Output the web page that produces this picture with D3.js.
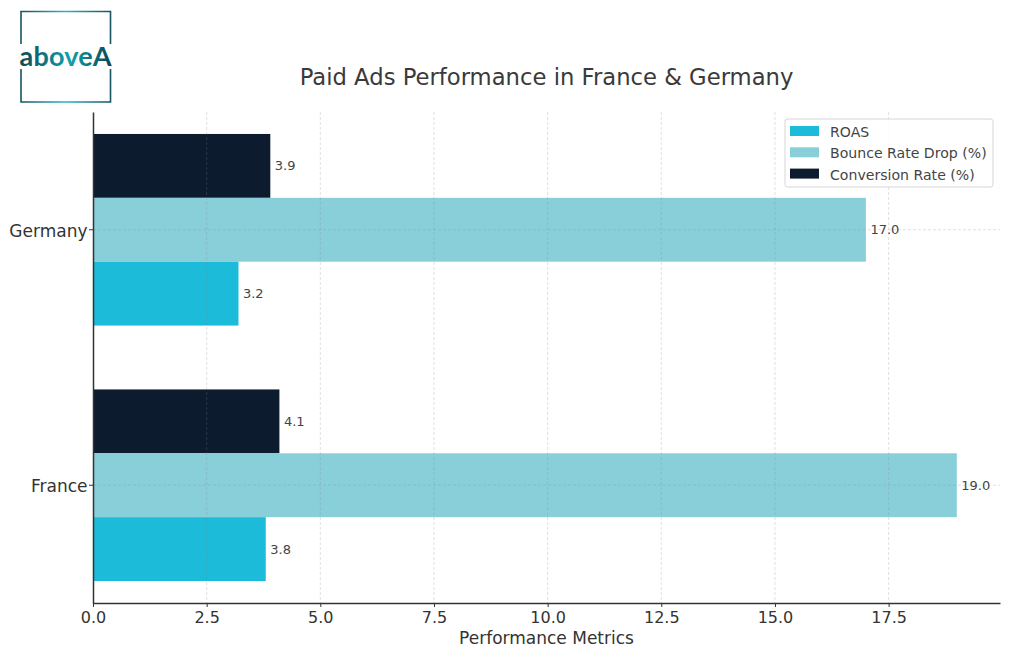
<!DOCTYPE html>
<html>
<head>
<meta charset="utf-8">
<script src="https://cdnjs.cloudflare.com/ajax/libs/d3/7.8.5/d3.min.js"></script>
<style>
  html, body { margin: 0; padding: 0; background: #fff; }
  svg { display: block; font-family: "DejaVu Sans", sans-serif; }
  .tick text { fill: #333; font-family: "DejaVu Sans", sans-serif; }
  .grid line { stroke: #888; stroke-opacity: 0.26; stroke-dasharray: 3 2; stroke-width: 1; }
</style>
</head>
<body>
<div id="chart"></div>
<script>
// Data
var countries = ["Germany", "France"];
var seriesNames = ["Conversion Rate (%)", "Bounce Rate Drop (%)", "ROAS"];
var legendNames = ["ROAS", "Bounce Rate Drop (%)", "Conversion Rate (%)"];
var roas = [3.2, 3.8];
var bounceDrop = [17.0, 19.0];
var conversion = [3.9, 4.1];
var xTicks = [0, 2.5, 5, 7.5, 10, 12.5, 15, 17.5];
var colors = { "ROAS": "#1cbbd9", "Bounce Rate Drop (%)": "#88cfda", "Conversion Rate (%)": "#0c1b2e" };
var valuesBySeries = { "ROAS": roas, "Bounce Rate Drop (%)": bounceDrop, "Conversion Rate (%)": conversion };

var margin = { top: 112, right: 24, bottom: 55, left: 93 },
    width = 1024 - margin.left - margin.right,
    height = 658 - margin.top - margin.bottom;

var svg = d3.select("#chart").append("svg")
  .attr("width", 1024)
  .attr("height", 658);

var g = svg.append("g")
  .attr("transform", "translate(" + margin.left + "," + margin.top + ")");

var xScale = d3.scaleLinear().domain([0, 19.95]).range([0, width]);

var yScale = d3.scaleBand().domain(countries).range([0, height])
  .paddingInner(0.25).paddingOuter(0.086);
var barScale = d3.scaleBand().domain(seriesNames).range([0, yScale.bandwidth()]);

// Bars
seriesNames.forEach(function(name) {
  countries.forEach(function(country, i) {
    var v = valuesBySeries[name][i];
    g.append("rect")
      .attr("x", 0)
      .attr("y", yScale(country) + barScale(name))
      .attr("width", xScale(v))
      .attr("height", barScale.bandwidth())
      .attr("fill", colors[name]);

    g.append("text")
      .attr("x", xScale(v) + 4.5)
      .attr("y", yScale(country) + barScale(name) + barScale.bandwidth() / 2)
      .attr("dy", "0.35em")
      .attr("font-size", "13px")
      .attr("fill", "#444")
      .text(v.toFixed(1));
  });
});

// Grid sits over the bars, faintly
var grid = g.append("g").attr("class", "grid");
xTicks.forEach(function(t) {
  if (t == 0) return;
  grid.append("line")
    .attr("x1", xScale(t)).attr("x2", xScale(t))
    .attr("y1", 0).attr("y2", height);
});
countries.forEach(function(c) {
  grid.append("line")
    .attr("x1", 0).attr("x2", width)
    .attr("y1", yScale(c) + yScale.bandwidth() / 2)
    .attr("y2", yScale(c) + yScale.bandwidth() / 2);
});

// Axes
var xAxis = g.append("g")
  .attr("transform", "translate(0," + height + ")")
  .call(d3.axisBottom(xScale).tickValues(xTicks).tickFormat(d3.format(".1f")).tickSize(4).tickSizeOuter(0).tickPadding(5));
xAxis.selectAll("text").attr("font-size", "16px");

var yAxis = g.append("g")
  .call(d3.axisLeft(yScale).tickSize(4).tickSizeOuter(0).tickPadding(1.5));
yAxis.selectAll("text").attr("font-size", "17px").attr("dy", "0.4em");

g.selectAll(".domain").attr("stroke", "#333").attr("stroke-width", 1.5);
g.selectAll(".tick line").attr("stroke", "#333");

// Titles
svg.append("text")
  .attr("x", 546.5).attr("y", 85)
  .attr("text-anchor", "middle")
  .attr("font-size", "22.7px")
  .attr("fill", "#3a3a3a")
  .text("Paid Ads Performance in France & Germany");

svg.append("text")
  .attr("x", 546.5).attr("y", 644)
  .attr("text-anchor", "middle")
  .attr("font-size", "17px")
  .attr("fill", "#333")
  .text("Performance Metrics");

// Legend
var legend = svg.append("g").attr("transform", "translate(785,119)");
legend.append("rect")
  .attr("width", 208).attr("height", 68).attr("rx", 2.5)
  .attr("fill", "#fff").attr("fill-opacity", 0.85)
  .attr("stroke", "#d6d6d6").attr("stroke-width", 1);
legendNames.forEach(function(name, i) {
  legend.append("rect")
    .attr("x", 5).attr("y", 7 + i * 21.3)
    .attr("width", 29).attr("height", 10)
    .attr("fill", colors[name]);
  legend.append("text")
    .attr("x", 45).attr("y", 13 + i * 21.3)
    .attr("dy", "0.35em")
    .attr("font-size", "14.1px")
    .attr("fill", "#444")
    .text(name);
});

// Logo
var defs = svg.append("defs");
var frameGrad = defs.append("linearGradient").attr("id", "logoFrame")
  .attr("gradientUnits", "userSpaceOnUse")
  .attr("x1", 20).attr("x2", 111).attr("y1", 0).attr("y2", 0);
frameGrad.append("stop").attr("offset", "0%").attr("stop-color", "#17535f");
frameGrad.append("stop").attr("offset", "50%").attr("stop-color", "#2bb5c0");
frameGrad.append("stop").attr("offset", "100%").attr("stop-color", "#17535f");

var textGrad = defs.append("linearGradient").attr("id", "logoText")
  .attr("gradientUnits", "userSpaceOnUse")
  .attr("x1", 20).attr("x2", 111).attr("y1", 0).attr("y2", 0);
textGrad.append("stop").attr("offset", "0%").attr("stop-color", "#0e4a55");
textGrad.append("stop").attr("offset", "55%").attr("stop-color", "#0ea2ab");
textGrad.append("stop").attr("offset", "100%").attr("stop-color", "#0b4653");

var logo = svg.append("g");
logo.append("path")
  .attr("d", d3.line()([[21, 44], [21, 11.5], [110.5, 11.5], [110.5, 44]]))
  .attr("fill", "none").attr("stroke", "url(#logoFrame)").attr("stroke-width", 1.6);
logo.append("path")
  .attr("d", d3.line()([[21, 69], [21, 102], [110.5, 102], [110.5, 69]]))
  .attr("fill", "none").attr("stroke", "url(#logoFrame)").attr("stroke-width", 1.6);
logo.append("text")
  .attr("x", 65.5).attr("y", 66)
  .attr("text-anchor", "middle")
  .attr("textLength", 92)
  .attr("font-family", "'Lato', sans-serif")
  .attr("font-weight", 700)
  .attr("font-size", "27px")
  .attr("fill", "url(#logoText)")
  .text("aboveA");
</script>
</body>
</html>
